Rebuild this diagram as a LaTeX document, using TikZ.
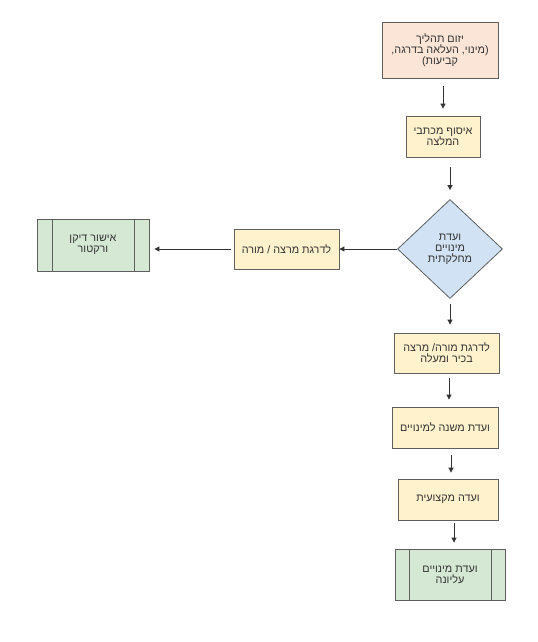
\documentclass[tikz,border=0pt]{standalone}
\usepackage{fontspec}
\setmainfont{Liberation Sans}
\newfontfamily\hebfont[Script=Hebrew]{Liberation Sans}
\TeXXeTstate=1
\usetikzlibrary{shapes.geometric,arrows.meta}
\newcommand\rl[1]{\beginR#1\endR}
\definecolor{peach}{HTML}{FBE5D6}
\definecolor{ylw}{HTML}{FFF2CC}
\definecolor{blu}{HTML}{D0E2F3}
\definecolor{grn}{HTML}{D5E8D4}
\definecolor{bord}{HTML}{5F5F5F}
\definecolor{txt}{HTML}{333333}
\tikzset{
  base/.style={draw=bord, line width=0.8bp, text=txt, align=center, inner sep=1bp,
    font=\hebfont\fontsize{10.8bp}{11bp}\selectfont},
  boxA/.style={base, rectangle},
  decis/.style={base, diamond, inner sep=0pt, aspect=1},
  procbox/.style={base, rectangle, path picture={
      \draw[bord, line width=0.8bp]
        ([xshift=#1]path picture bounding box.north west) -- ([xshift=#1]path picture bounding box.south west)
        ([xshift=-#1]path picture bounding box.north east) -- ([xshift=-#1]path picture bounding box.south east);}},
  arr/.style={draw=txt, line width=0.9bp, -{Triangle[length=5bp,width=5bp]}}
}
\begin{document}
\begin{tikzpicture}[x=1bp,y=-1bp]
\path[use as bounding box, fill=white] (0,0) rectangle (538,642);
\node[boxA, fill=peach, minimum width=116bp, minimum height=56bp] (b1) at (440,50)
  {\rl{יזום תהליך}\\\rl{(מינוי, העלאה בדרגה,}\\\rl{קביעות)}};
\node[boxA, fill=ylw, minimum width=74bp, minimum height=41bp] (b2) at (443,136.5)
  {\rl{איסוף מכתבי}\\\rl{המלצה}};
\node[decis, fill=blu, minimum width=105bp, minimum height=99bp] (d) at (450,249)
  {\rl{ועדת}\\\rl{מינויים}\\\rl{מחלקתית}};
\node[boxA, fill=ylw, minimum width=105bp, minimum height=40bp] (b4) at (286.5,249)
  {\rl{לדרגת מרצה / מורה}};
\node[procbox=15bp, fill=grn, minimum width=112bp, minimum height=52bp] (b5) at (93,245)
  {\rl{אישור דיקן}\\\rl{ורקטור}};
\node[boxA, fill=ylw, minimum width=105bp, minimum height=40bp] (b6) at (446.5,353)
  {\rl{לדרגת מורה/ מרצה}\\\rl{בכיר ומעלה}};
\node[boxA, fill=ylw, minimum width=106bp, minimum height=41bp] (b7) at (445,427.5)
  {\rl{ועדת משנה למינויים}};
\node[boxA, fill=ylw, minimum width=100bp, minimum height=41bp] (b8) at (448,499.5)
  {\rl{ועדה מקצועית}};
\node[procbox=14bp, fill=grn, minimum width=110bp, minimum height=51bp] (b9) at (450,574.5)
  {\rl{ועדת מינויים}\\\rl{עליונה}};
\draw[arr, shorten <=8bp, shorten >=7bp] (b1.south -| b2.north) -- (b2.north);
\draw[arr, shorten <=10bp, shorten >=9bp] (b2.south -| d.north) -- (d.north);
\draw[arr] (d.west) -- (b4.east);
\draw[arr, shorten <=3bp, shorten >=5bp] (b4.west) -- (b4.west -| b5.east);
\draw[arr, shorten <=5bp, shorten >=8bp] (d.south) -- (d.south |- b6.north);
\draw[arr, shorten <=5bp, shorten >=7bp] ([xshift=2.5bp]b6.south) -- ([xshift=2.5bp]b6.south |- b7.north);
\draw[arr, shorten <=7bp, shorten >=6bp] ([xshift=6bp]b7.south) -- ([xshift=6bp]b7.south |- b8.north);
\draw[arr, shorten <=3bp, shorten >=6bp] ([xshift=6bp]b8.south) -- ([xshift=6bp]b8.south |- b9.north);
\end{tikzpicture}
\end{document}
